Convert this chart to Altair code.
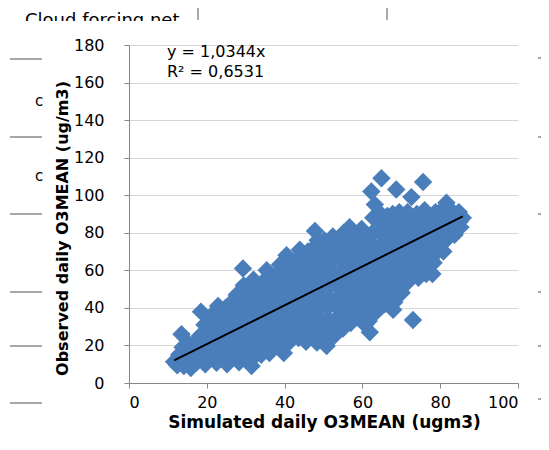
import altair as alt
import pandas as pd

# Simulated (x) and observed (y) daily O3MEAN values
sim_x = [
    11.6, 12.4, 12.9, 13.5, 13.8, 14.1, 14.9, 15.3, 15.9, 16.5,
    17.1, 17.4, 18.2, 18.5, 18.9, 19.4, 19.6, 20.3, 20.8, 21.2,
    21.5, 22.1, 22.5, 22.9, 23.2, 23.6, 24.1, 24.5, 24.8, 25.2,
    25.6, 26.0, 26.4, 26.8, 27.2, 27.7, 28.0, 28.3, 28.7, 29.0,
    29.3, 29.5, 29.8, 30.2, 30.6, 31.0, 31.5, 31.8, 32.0, 32.3,
    32.7, 33.1, 33.6, 34.0, 34.4, 34.8, 35.2, 35.4, 35.7, 36.1,
    36.5, 36.9, 37.3, 37.8, 38.2, 38.8, 38.6, 39.0, 39.4, 39.8,
    40.2, 40.5, 40.7, 41.1, 41.5, 41.3, 42.0, 42.4, 42.8, 43.2,
    43.6, 43.9, 44.1, 44.5, 44.9, 45.3, 45.5, 45.9, 46.3, 46.7,
    47.1, 47.5, 47.8, 47.9, 48.3, 48.6, 49.0, 49.4, 49.8, 50.2,
    50.8, 50.6, 51.0, 51.4, 51.8, 52.2, 52.4, 52.7, 53.1, 53.5,
    53.9, 54.3, 54.7, 55.0, 55.4, 55.8, 56.2, 56.7, 56.6, 57.0,
    57.4, 57.8, 58.2, 58.6, 59.0, 59.4, 59.8, 59.9, 60.3, 60.7,
    61.1, 61.5, 61.9, 61.6, 62.0, 62.3, 62.4, 62.8, 63.0, 63.3,
    63.6, 63.9, 64.3, 64.9, 64.7, 65.0, 65.4, 65.8, 66.2, 66.6,
    67.0, 67.4, 67.8, 68.2, 68.7, 68.5, 68.9, 69.3, 69.7, 70.1,
    70.5, 70.9, 71.3, 71.6, 71.9, 72.3, 72.6, 72.8, 73.0, 73.2,
    73.6, 74.0, 74.4, 74.8, 75.2, 75.6, 75.6, 76.0, 76.4, 76.8,
    77.2, 77.6, 78.0, 78.4, 78.8, 79.2, 79.6, 80.0, 80.4, 80.8,
    81.2, 81.6, 81.9, 82.4, 82.9, 83.3, 83.7, 84.2, 84.8, 85.2,
    85.8, 67.9, 63.2,
    13.0, 14.5, 16.0, 16.8, 18.0, 19.0, 19.9, 20.5, 21.0, 21.8,
    22.3, 23.0, 23.8, 24.0, 24.3, 25.0, 25.4, 26.2, 26.6, 27.0,
    27.5, 27.9, 28.5, 28.9, 29.2, 29.6, 30.0, 30.4, 30.8, 31.2,
    31.4, 32.1, 32.5, 32.9, 33.4, 33.8, 34.2, 34.6, 35.0, 35.5,
    36.0, 36.3, 36.7, 37.1, 37.5, 38.0, 38.4, 38.9, 39.2, 39.6,
    39.9, 40.4, 40.9, 41.2, 41.8, 42.2, 42.6, 43.0, 43.4, 43.8,
    44.3, 44.7, 45.1, 45.6, 46.0, 46.5, 46.9, 47.3, 47.7, 48.1,
    48.5, 48.8, 49.2, 49.6, 50.0, 50.4, 50.3, 51.2, 51.6, 52.0,
    52.5, 52.9, 53.3, 53.7, 54.1, 54.5, 54.9, 55.2, 55.6, 56.0,
    56.4, 56.9, 57.2, 57.6, 58.0, 58.4, 58.8, 59.2, 59.6, 60.0,
    60.5, 60.9, 61.3, 61.7, 62.2, 62.6, 63.1, 63.5, 64.0, 64.4,
    64.6, 65.2, 65.6, 66.0, 66.4, 66.8, 67.2, 67.6, 68.0, 68.4,
    68.8, 69.1, 69.5, 69.9, 70.3, 70.7, 71.1, 71.5, 71.8, 72.1,
    72.5, 72.9, 73.4, 73.8, 74.2, 74.6, 75.0, 75.4, 75.9, 76.2,
    76.6, 77.0, 77.4, 77.9, 78.3, 78.6, 79.0, 79.4, 79.8, 80.2,
    80.6, 81.0, 81.4, 81.8, 82.2, 82.7, 83.1, 83.5, 84.0, 84.5,
    85.0,
]
obs_y = [
    11.3, 9.5, 15, 26, 19, 9, 13, 21, 8, 16,
    21.5, 11, 25, 38, 18, 31, 10, 24, 13, 36,
    19, 29, 10.8, 41, 22, 35, 15, 28, 40, 10,
    21, 33, 43, 15, 26, 47, 37, 11, 20, 30,
    61, 52, 42, 14, 24, 35, 9, 46, 55, 18,
    29, 40, 50, 15, 23, 33, 44, 60, 53, 16,
    27, 38, 48, 57, 20, 63, 31, 42, 52, 16,
    25, 68, 36, 46, 58, 22, 30, 41, 51, 63,
    24, 71, 35, 45, 56, 66, 22, 30, 40, 51,
    61, 72, 81, 26, 21.5, 35, 46, 56, 66, 76,
    19.7, 29, 40, 51, 61, 71, 78, 25, 34, 45,
    55, 66, 76, 29, 39, 50, 60, 83, 71, 32,
    44, 54, 65, 76, 36, 48, 82, 58, 69, 31,
    40, 52, 27, 33, 62, 102, 74, 88, 44, 55,
    38, 66, 80, 109, 90, 47, 59, 42, 71, 84,
    51, 63, 90, 43, 103, 76, 56, 68, 86, 48,
    61, 79, 53, 91, 70, 57, 99, 84, 33.5, 64,
    76, 90, 56, 70, 83, 107, 62, 92, 58, 75,
    87, 66, 58, 80, 91, 70, 85, 77, 92, 70,
    84, 96, 77, 89, 81, 91, 79, 86, 91, 83,
    88, 39, 95,
    12, 17, 12, 19, 14, 22, 28, 17, 31, 24,
    14, 32, 18, 25, 37, 31, 14, 24, 38, 19,
    31, 42, 15, 25, 35, 47, 19, 30, 40, 12,
    51, 24, 35, 45, 19, 28, 38, 48, 55, 21,
    33, 43, 53, 23, 34, 45, 56, 25, 37, 47,
    60, 30, 41, 52, 63, 26, 36, 46, 57, 67,
    29, 40, 50, 61, 70, 26, 35, 45, 56, 66,
    76, 30, 41, 51, 61, 71, 24, 34, 45, 56,
    66, 74, 29, 40, 50, 60, 71, 80, 34, 44,
    55, 65, 77, 38, 49, 59, 70, 80, 42, 53,
    63, 75, 46, 57, 68, 80, 50, 61, 72, 86,
    42, 53, 65, 77, 89, 46, 57, 69, 82, 50,
    62, 73, 91, 54, 66, 85, 74, 60, 82, 89,
    67, 78, 59, 71, 82, 63, 76, 89, 68, 81,
    88, 62, 72, 84, 64, 74, 80, 90, 73, 82,
    87, 76, 90, 82, 79, 86, 84, 88, 82, 89,
    86,
]

slope = 1.0344
eq_label = "y = 1,0344x"
r2_label = "R² = 0,6531"
x_title = "Simulated daily O3MEAN (ugm3)"
y_title = "Observed daily O3MEAN (ug/m3)"
x_ticks = [0, 20, 40, 60, 80, 100]
y_ticks = [0, 20, 40, 60, 80, 100, 120, 140, 160, 180]
bg_caption = "Cloud  forcing net"

FONT = "DejaVu Sans"
W, H = 389, 338

df = pd.DataFrame({"sim": sim_x, "obs": obs_y})
trend = pd.DataFrame({"sim": [min(sim_x), max(sim_x)]})
trend["obs"] = slope * trend["sim"]
one = pd.DataFrame({"k": [0]})

xs = alt.Scale(domain=[0, 100], nice=False, zero=True)
ys = alt.Scale(domain=[0, 180], nice=False, zero=True)

x_axis = alt.Axis(
    values=x_ticks, tickCount=6, grid=False, title=x_title,
    domainColor="#868686", tickColor="#868686", tickSize=5, labelPadding=6,
    labelFontSize=16, labelColor="black", labelFont=FONT, labelOverlap=False,
    titleFont=FONT, titleFontSize=17, titleFontWeight="bold",
    titleColor="black", titleX=195, titleY=39, titleAnchor="middle",
    titleAlign="center", titleBaseline="middle",
)
y_axis = alt.Axis(
    values=y_ticks, tickCount=10, grid=True, gridColor="#d6d6d6", gridWidth=1,
    title=y_title, domainColor="#868686", tickColor="#868686", tickSize=5,
    labelPadding=20, labelFontSize=16, labelColor="black", labelFont=FONT,
    labelOverlap=False, titleFont=FONT, titleFontSize=16,
    titleFontWeight="bold", titleColor="black", titleAngle=-90, titleX=-67,
    titleY=183, titleAlign="center", titleBaseline="middle",
)

points = alt.Chart(df).mark_point(
    shape="diamond", filled=True, size=340, color="#4A7EBB", opacity=1,
    strokeWidth=0,
).encode(
    x=alt.X("sim:Q", scale=xs, axis=x_axis),
    y=alt.Y("obs:Q", scale=ys, axis=y_axis),
)

line = alt.Chart(trend).mark_line(color="black", strokeWidth=2).encode(
    x=alt.X("sim:Q", scale=xs, axis=x_axis),
    y=alt.Y("obs:Q", scale=ys, axis=y_axis),
)

eq_text = alt.Chart(one).mark_text(
    text=eq_label, align="left", baseline="alphabetic", font=FONT,
    fontSize=16, color="black",
).encode(x=alt.value(38), y=alt.value(12))
r2_text = alt.Chart(one).mark_text(
    text=r2_label, align="left", baseline="alphabetic", font=FONT,
    fontSize=16, color="black",
).encode(x=alt.value(38), y=alt.value(32))

# background artefacts of the page the chart was pasted on
deco = []
deco.append(alt.Chart(one).mark_text(
    text=bg_caption, align="left", baseline="alphabetic", font=FONT,
    fontSize=18, color="black",
).encode(x=alt.value(-104), y=alt.value(-19)))
deco.append(alt.Chart(one).mark_rect(color="white").encode(
    x=alt.value(-116), x2=alt.value(66), y=alt.value(-24), y2=alt.value(-8)))
for vx in [69, 258]:
    deco.append(alt.Chart(one).mark_rule(color="#555555", strokeWidth=1).encode(
        x=alt.value(vx), y=alt.value(-37), y2=alt.value(-25)))
for ly in [14, 92, 169, 247, 301, 358]:
    deco.append(alt.Chart(one).mark_rule(color="#8a8a8a", strokeWidth=1.5).encode(
        x=alt.value(-119), x2=alt.value(-87), y=alt.value(ly)))
for ry in [13, 92, 169, 247, 301, 354]:
    deco.append(alt.Chart(one).mark_rule(color="#8a8a8a", strokeWidth=1.5).encode(
        x=alt.value(409), x2=alt.value(415), y=alt.value(ry)))
for cy in [56, 131]:
    deco.append(alt.Chart(one).mark_text(
        text="c", font=FONT, fontSize=15, color="black", align="center",
        baseline="middle",
    ).encode(x=alt.value(-90), y=alt.value(cy)))

chart = alt.layer(*deco, points, line, eq_text, r2_text).properties(
    width=W, height=H,
    padding={"left": 121, "top": 37, "right": 23, "bottom": 59},
    autosize=alt.AutoSizeParams(type="none"),
    background="white",
).configure_view(stroke=None)

chart.save("out.html", embed_options={"renderer": "svg", "actions": False})
